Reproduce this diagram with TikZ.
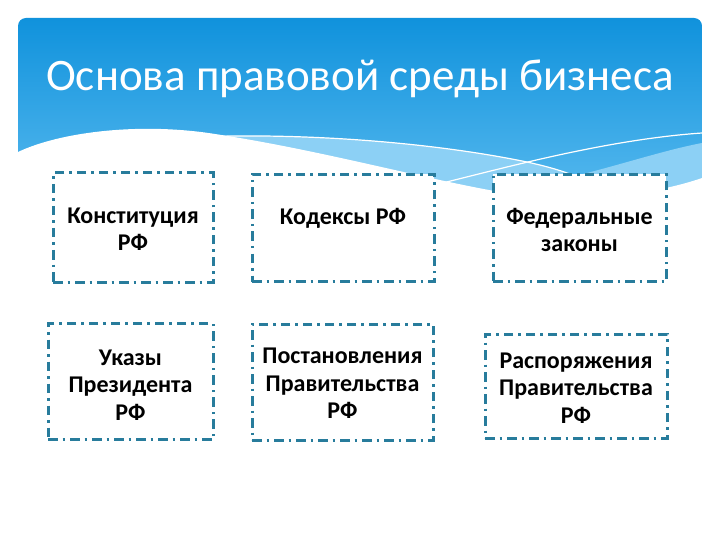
\documentclass[tikz,border=0pt]{standalone}
\usepackage{fontspec}
\setmainfont{Carlito}
\begin{document}
\definecolor{hdrtop}{RGB}{16,146,220}
\definecolor{hdrbot}{RGB}{92,188,240}
\definecolor{band}{RGB}{140,208,245}
\definecolor{boxline}{RGB}{40,124,156}
\tikzset{
  dbox/.style={draw=boxline, fill=white, line width=3pt,
    dash pattern=on 9.5pt off 5pt on 2.5pt off 5pt, inner sep=0pt},
  btext/.style={font=\bfseries\fontsize{24}{27.5}\selectfont, align=center, text=black, inner sep=0pt},
  wline/.style={draw=white, line width=1.2pt}
}
\begin{tikzpicture}[x=1pt,y=-1pt]
\useasboundingbox (0,0) rectangle (720,540);
\fill[white] (0,0) rectangle (720,540);
% header
\begin{scope}
\clip (18,215) -- (18,26) arc[start angle=180, end angle=90, radius=8pt] -- (694,18) arc[start angle=90, end angle=0, radius=8pt] -- (702,215) -- cycle;
\shade[top color=hdrtop, bottom color=hdrbot] (18,18) rectangle (702,215);
% light band
\fill[band] (195,137) .. controls (290,133) and (420,140) .. (527,162)
  .. controls (545,166) and (560,170) .. (575,176)
  .. controls (620,165) and (665,150) .. (702,143) -- (702,215) -- (195,215) -- cycle;
% white region
\fill[white] (18,152) .. controls (60,132) and (140,122) .. (215,134)
  .. controls (320,150) and (420,178) .. (500,192)
  .. controls (580,202) and (650,196) .. (702,178) -- (702,216) -- (17,216) -- cycle;
% thin white lines
\draw[wline] (195,137) .. controls (290,133) and (420,140) .. (527,162) .. controls (545,166) and (560,170) .. (575,176);
\draw[wline] (430,186) .. controls (490,172) and (600,140) .. (702,133);
\end{scope}
\node[text=white, font=\fontsize{45}{52}\selectfont, inner sep=0pt] (title) at (360,79) {Основа правовой среды бизнеса};
% boxes
\node[dbox, minimum width=160pt, minimum height=109pt] (b1) at (133,227.5) {};
\node[dbox, minimum width=182pt, minimum height=107pt] (b2) at (343,228) {};
\node[dbox, minimum width=173pt, minimum height=107pt] (b3) at (579.5,228) {};
\node[dbox, minimum width=165pt, minimum height=116pt] (b4) at (130.5,381.5) {};
\node[dbox, minimum width=181pt, minimum height=116pt] (b5) at (342.5,382) {};
\node[dbox, minimum width=182pt, minimum height=104pt] (b6) at (576,386) {};
% texts
\node[btext] (t1) at (133,229) {Конституция\\РФ};
\node[btext] (t2) at (343,218) {Кодексы РФ};
\node[btext] (t3) at (579.5,230) {Федеральные\\законы};
\node[btext] (t4) at (130.5,385) {Указы\\Президента\\РФ};
\node[btext] (t5) at (342.5,383.5) {Постановления\\Правительства\\РФ};
\node[btext] (t6) at (576,388) {Распоряжения\\Правительства\\РФ};
\end{tikzpicture}
\end{document}
